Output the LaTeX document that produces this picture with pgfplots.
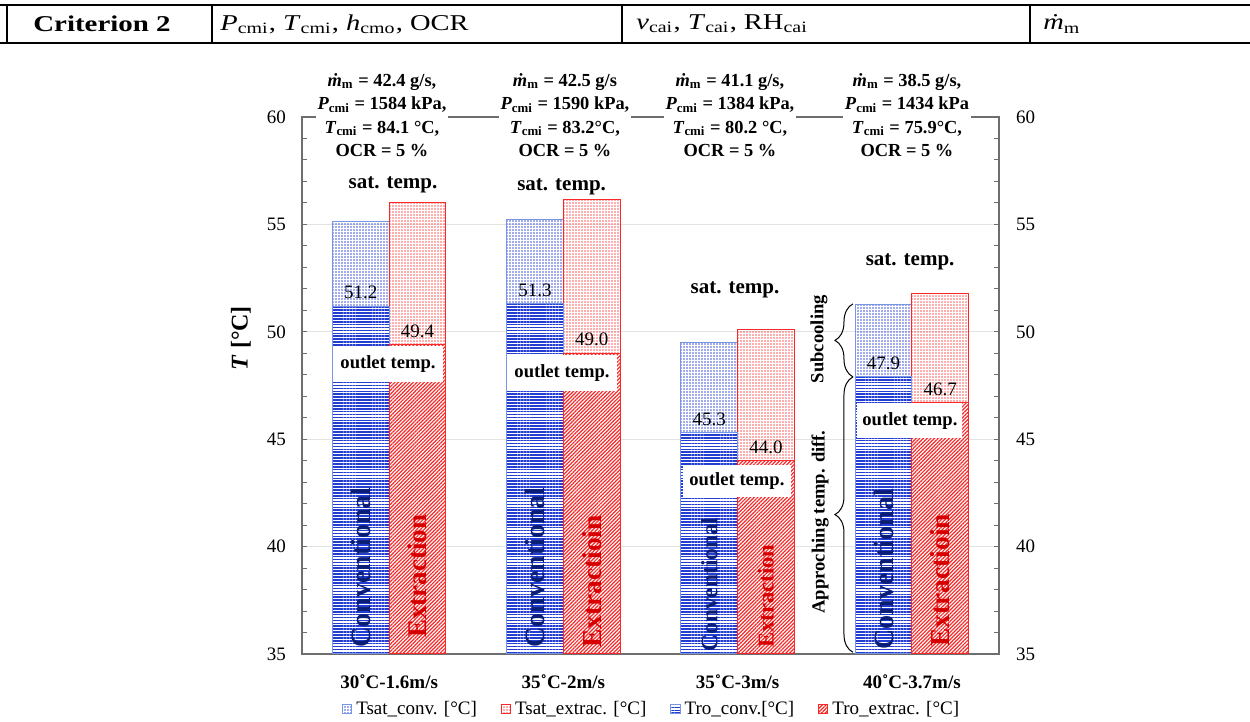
\documentclass[border=0pt]{standalone}
\usepackage{fontspec}
\setmainfont{Liberation Serif}
\usepackage{graphicx}
\usepackage{pgfplots}
\pgfplotsset{compat=1.18}
\usetikzlibrary{patterns.meta,decorations.pathreplacing}
\definecolor{cblue}{RGB}{35,60,210}
\definecolor{cblueb}{RGB}{120,150,230}
\definecolor{cred}{RGB}{250,40,40}
\definecolor{navy}{RGB}{10,30,120}
\definecolor{dred}{RGB}{215,0,0}
\definecolor{axgray}{RGB}{110,110,110}
\newcommand{\fs}[2]{\fontsize{#1}{#2}\selectfont}
\pgfplotsset{
  /pgf/number format/assume math mode=true,
  sqleg/.style={legend image code/.code={\draw[##1] (0pt,-2.3pt) rectangle (4.6pt,2.3pt);}},
}
\begin{document}
\begin{tikzpicture}
\useasboundingbox (0,0) rectangle (625pt,361pt);
% table row
\draw[line width=1.2pt] (0,358.5pt) -- (625pt,358.5pt);
\draw[line width=1.3pt] (0,339.5pt) -- (625pt,339.5pt);
\foreach \xx in {3.3pt,106pt,311pt,515pt}{\draw[line width=1pt] (\xx,358.5pt) -- (\xx,339.5pt);}
\node[inner sep=0pt] at (51pt,349pt) {\scalebox{1.28}[1]{\fs{11.3pt}{13pt}\bfseries Criterion 2}};
\node[inner sep=0pt,anchor=west] at (110pt,349pt) {\scalebox{1.26}[1]{\fs{11.3pt}{13pt}\textit{P}\textsubscript{cmi}, \textit{T}\textsubscript{cmi}, \textit{h}\textsubscript{cmo}, OCR}};
\node[inner sep=0pt,anchor=west] at (318pt,349pt) {\scalebox{1.26}[1]{\fs{11.3pt}{13pt}\textit{v}\textsubscript{cai}, \textit{T}\textsubscript{cai}, RH\textsubscript{cai}}};
\node[inner sep=0pt,anchor=west] at (521.5pt,349pt) {\scalebox{1.26}[1]{\fs{11.3pt}{13pt}\textit{\.{m}}\textsubscript{m}}};

\begin{axis}[
  at={(151pt,34pt)}, anchor=south west, scale only axis,
  width=348.5pt, height=268.5pt,
  xmin=0.5, xmax=4.5, ymin=35, ymax=60,
  ybar, bar width=0.325,
  clip mode=individual,
  axis line style={axgray, line width=0.6pt},
  ytick={35,40,...,60}, minor tick num=4,
  ytick pos=left, tick align=inside,
  major tick length=2.5pt, minor tick length=2.5pt,
  tick style={axgray, line width=0.5pt},
  ymajorgrids, major grid style={gray!22, line width=0.5pt},
  xtick={1,2,3,4},
  xticklabels={30˚C-1.6m/s,35˚C-2m/s,35˚C-3m/s,40˚C-3.7m/s},
  xtick style={draw=none},
  xticklabel style={font=\bfseries\fs{9.5pt}{11pt}, yshift=-7pt},
  yticklabel style={font=\fs{9.5pt}{11pt}, xshift=-4.5pt},
  ylabel={\textbf{\textit{T} [°C]}},
  ylabel style={font=\fs{12pt}{14pt}, at={(axis description cs:-0.0875,0.588)}, anchor=center},
  legend style={at={(axis description cs:0.503,-0.1024)}, anchor=center, draw=none,
    font=\fs{9.5pt}{11pt}, inner sep=0pt},
  legend columns=4,
  legend cell align=left,
  /tikz/every even column/.append style={column sep=10pt},
]
\addplot[sqleg, bar shift=-0.1625, draw=cblueb, line width=0.5pt,
  pattern={Dots[distance=1.5pt,radius=0.45pt]}, pattern color=cblue!85]
  coordinates {(1,55.13) (2,55.25) (3,49.52) (4,51.29)};
\addlegendentry{Tsat\_conv. [°C]}
\addplot[sqleg, bar shift=0.1625, draw=cred, line width=0.5pt,
  pattern={Dots[distance=1.5pt,radius=0.45pt]}, pattern color=cred!75]
  coordinates {(1,56.03) (2,56.18) (3,50.13) (4,51.79)};
\addlegendentry{Tsat\_extrac. [°C]}
\addplot[sqleg, bar shift=-0.1625, draw=cblueb, line width=0.5pt, fill=white,
  postaction={pattern={Lines[angle=0,distance=1.45pt,line width=0.8pt]}, pattern color=cblue},
  nodes near coords,
  nodes near coords style={font=\fs{9.5pt}{11pt}, text=black},
  /pgf/number format/.cd, fixed, fixed zerofill, precision=1]
  coordinates {(1,51.2) (2,51.3) (3,45.3) (4,47.9)};
\addlegendentry{Tro\_conv.[°C]}
\addplot[sqleg, bar shift=0.1625, draw=cred, line width=0.5pt, fill=white,
  postaction={pattern={Lines[angle=45,distance=1.3pt,line width=0.6pt]}, pattern color=cred},
  nodes near coords,
  nodes near coords style={font=\fs{9.5pt}{11pt}, text=black},
  /pgf/number format/.cd, fixed, fixed zerofill, precision=1]
  coordinates {(1,49.4) (2,49.0) (3,44.0) (4,46.7)};
\addlegendentry{Tro\_extrac. [°C]}

% outlet temp boxes
\node[fill=white, inner sep=0pt, minimum width=55pt, minimum height=18pt, font=\bfseries\fs{9.3pt}{11pt}] at (axis cs:0.9935,48.52) {outlet temp.};
\node[fill=white, inner sep=0pt, minimum width=55pt, minimum height=18pt, font=\bfseries\fs{9.3pt}{11pt}] at (axis cs:1.992,48.08) {outlet temp.};
\node[fill=white, inner sep=0pt, minimum width=54pt, minimum height=16pt, font=\bfseries\fs{9.3pt}{11pt}] at (axis cs:2.996,43.05) {outlet temp.};
\node[fill=white, inner sep=0pt, minimum width=52.5pt, minimum height=17.5pt, font=\bfseries\fs{9.3pt}{11pt}] at (axis cs:3.989,45.85) {outlet temp.};

% sat temp labels
\node[font=\bfseries\fs{10.5pt}{12pt}] at (axis cs:1.022,56.83) {sat. temp.};
\node[font=\bfseries\fs{10.5pt}{12pt}] at (axis cs:1.99,56.74) {sat. temp.};
\node[font=\bfseries\fs{10.5pt}{12pt}] at (axis cs:2.985,51.95) {sat. temp.};
\node[font=\bfseries\fs{10.5pt}{12pt}] at (axis cs:3.99,53.25) {sat. temp.};

% rotated bar names
\node[rotate=90, anchor=west, inner sep=0pt, font=\bfseries\fs{14pt}{16pt}, text=navy] at (axis cs:0.8375,35.28) {Conventional};
\node[rotate=90, anchor=west, inner sep=0pt, font=\bfseries\fs{13.5pt}{16pt}, text=dred] at (axis cs:1.1625,35.74) {Extraction};
\node[rotate=90, anchor=west, inner sep=0pt, font=\bfseries\fs{14pt}{16pt}, text=navy] at (axis cs:1.8375,35.28) {Conventional};
\node[rotate=90, anchor=west, inner sep=0pt, font=\bfseries\fs{13.7pt}{16pt}, text=dred] at (axis cs:2.1625,35.28) {Extractioin};
\node[rotate=90, anchor=west, inner sep=0pt, font=\bfseries\fs{11.7pt}{14pt}, text=navy] at (axis cs:2.8375,35.1) {Conventional};
\node[rotate=90, anchor=west, inner sep=0pt, font=\bfseries\fs{11.3pt}{14pt}, text=dred] at (axis cs:3.1625,35.28) {Extraction};
\node[rotate=90, anchor=west, inner sep=0pt, font=\bfseries\fs{14pt}{16pt}, text=navy] at (axis cs:3.8375,35.2) {Conventional};
\node[rotate=90, anchor=west, inner sep=0pt, font=\bfseries\fs{13.7pt}{16pt}, text=dred] at (axis cs:4.1625,35.33) {Extractioin};

% braces
\draw[decorate, decoration={brace, amplitude=9pt}, line width=0.5pt] (axis cs:3.662,47.9) -- (axis cs:3.662,51.3);
\draw[decorate, decoration={brace, amplitude=9pt}, line width=0.5pt] (axis cs:3.662,35.08) -- (axis cs:3.662,47.9);
\node[rotate=90, font=\bfseries\fs{9.3pt}{11pt}] at (axis cs:3.467,49.66) {Subcooling};
\node[rotate=90, font=\bfseries\fs{9.3pt}{11pt}] at (axis cs:3.473,41.15) {Approching temp. diff.};

% top annotations
\node[align=center, fill=white, inner sep=1pt, font=\bfseries\fs{9.2pt}{11.7pt}] at (axis cs:0.959,60.09)
  {\textit{\.{m}}\textsubscript{m} = 42.4 g/s,\\ \textit{P}\textsubscript{cmi} = 1584 kPa,\\ \textit{T}\textsubscript{cmi} = 84.1 °C,\\ OCR = 5 \%};
\node[align=center, fill=white, inner sep=1pt, font=\bfseries\fs{9.2pt}{11.7pt}] at (axis cs:2.009,60.09)
  {\textit{\.{m}}\textsubscript{m} = 42.5 g/s\\ \textit{P}\textsubscript{cmi} = 1590 kPa,\\ \textit{T}\textsubscript{cmi} = 83.2°C,\\ OCR = 5 \%};
\node[align=center, fill=white, inner sep=1pt, font=\bfseries\fs{9.2pt}{11.7pt}] at (axis cs:2.956,60.09)
  {\textit{\.{m}}\textsubscript{m} = 41.1 g/s,\\ \textit{P}\textsubscript{cmi} = 1384 kPa,\\ \textit{T}\textsubscript{cmi} = 80.2 °C,\\ OCR = 5 \%};
\node[align=center, fill=white, inner sep=1pt, font=\bfseries\fs{9.2pt}{11.7pt}] at (axis cs:3.972,60.09)
  {\textit{\.{m}}\textsubscript{m} = 38.5 g/s,\\ \textit{P}\textsubscript{cmi} = 1434 kPa\\ \textit{T}\textsubscript{cmi} = 75.9°C,\\ OCR = 5 \%};
\end{axis}

\begin{axis}[
  at={(151pt,34pt)}, anchor=south west, scale only axis,
  width=348.5pt, height=268.5pt,
  xmin=0.5, xmax=4.5, ymin=35, ymax=60,
  axis x line=none, axis y line*=right,
  axis line style={axgray, line width=0.6pt},
  ytick={35,40,...,60}, minor tick num=4, tick align=inside,
  major tick length=2.5pt, minor tick length=2.5pt,
  tick style={axgray, line width=0.5pt},
  yticklabel style={font=\fs{9.5pt}{11pt}, xshift=5pt},
]
\end{axis}
\end{tikzpicture}
\end{document}
